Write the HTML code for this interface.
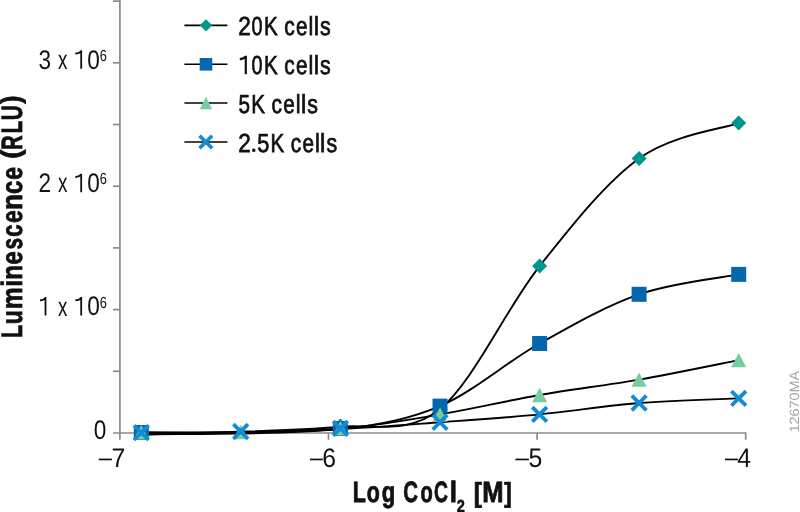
<!DOCTYPE html>
<html><head><meta charset="utf-8"><style>
html,body{margin:0;padding:0;background:#fff;width:800px;height:512px;overflow:hidden}
svg{display:block;will-change:transform}
text{font-family:"Liberation Sans",sans-serif;text-rendering:geometricPrecision}
</style></head><body>
<svg width="800" height="512" viewBox="0 0 800 512">
<rect width="800" height="512" fill="#fff"/>

<path d="M119.90 0V439.8" stroke="#8a8a90" stroke-width="1.7" fill="none"/>
<path d="M113 433.00H746.5" stroke="#8a8a90" stroke-width="1.7" fill="none"/>
<path d="M113 371.30H119.90" stroke="#8a8a90" stroke-width="1.7"/>
<path d="M113 309.60H119.90" stroke="#8a8a90" stroke-width="1.7"/>
<path d="M113 247.90H119.90" stroke="#8a8a90" stroke-width="1.7"/>
<path d="M113 186.20H119.90" stroke="#8a8a90" stroke-width="1.7"/>
<path d="M113 124.50H119.90" stroke="#8a8a90" stroke-width="1.7"/>
<path d="M113 62.80H119.90" stroke="#8a8a90" stroke-width="1.7"/>
<path d="M113 1.10H119.90" stroke="#8a8a90" stroke-width="1.7"/>
<path d="M328.50 433.00V439.8" stroke="#8a8a90" stroke-width="1.7"/>
<path d="M537.10 433.00V439.8" stroke="#8a8a90" stroke-width="1.7"/>
<path d="M745.70 433.00V439.8" stroke="#8a8a90" stroke-width="1.7"/>
<path d="M141.30 434.50 C174.48 433.20 274.03 432.37 340.40 426.70 C373.60 423.87 406.80 435.77 440.00 409.00 C473.20 382.23 506.40 307.89 539.60 266.10 C572.77 224.35 605.93 182.22 639.10 158.40 C672.30 134.55 722.10 128.98 738.70 123.10" stroke="#000" stroke-width="1.90" fill="none"/>
<path d="M141.30 434.50 C174.48 433.60 274.03 435.41 340.40 429.10 C373.60 425.94 406.80 420.37 440.00 406.10 C473.20 391.83 506.40 362.14 539.60 343.50 C572.77 324.88 605.93 305.81 639.10 294.30 C672.30 282.78 722.10 277.72 738.70 274.40" stroke="#000" stroke-width="1.90" fill="none"/>
<path d="M141.30 432.30 C157.87 432.33 207.57 433.07 240.70 432.50 C273.93 431.93 307.17 431.90 340.40 428.90 C373.60 425.90 406.80 420.15 440.00 414.50 C473.20 408.85 506.40 400.82 539.60 395.00 C572.77 389.19 605.93 385.41 639.10 379.60 C672.30 373.78 722.10 363.35 738.70 360.10" stroke="#000" stroke-width="1.90" fill="none"/>
<path d="M141.30 432.70 C157.87 432.58 207.57 432.62 240.70 432.00 C273.93 431.38 307.17 430.62 340.40 429.00 C373.60 427.38 406.80 424.73 440.00 422.30 C473.20 419.87 506.40 417.62 539.60 414.40 C572.77 411.18 605.93 405.67 639.10 403.00 C672.30 400.33 722.10 399.17 738.70 398.40" stroke="#000" stroke-width="1.90" fill="none"/>
<path d="M141.30 425.00L148.80 432.50L141.30 440.00L133.80 432.50Z" fill="#00968d"/>
<path d="M340.40 418.60L347.90 426.10L340.40 433.60L332.90 426.10Z" fill="#00968d"/>
<path d="M440.00 401.50L447.50 409.00L440.00 416.50L432.50 409.00Z" fill="#00968d"/>
<path d="M539.60 258.60L547.10 266.10L539.60 273.60L532.10 266.10Z" fill="#00968d"/>
<path d="M639.10 150.90L646.60 158.40L639.10 165.90L631.60 158.40Z" fill="#00968d"/>
<path d="M738.70 115.60L746.20 123.10L738.70 130.60L731.20 123.10Z" fill="#00968d"/>
<rect x="133.80" y="425.00" width="15.00" height="15.00" fill="#0667b1"/>
<rect x="332.90" y="421.00" width="15.00" height="15.00" fill="#0667b1"/>
<rect x="432.50" y="398.60" width="15.00" height="15.00" fill="#0667b1"/>
<rect x="532.10" y="336.00" width="15.00" height="15.00" fill="#0667b1"/>
<rect x="631.60" y="286.80" width="15.00" height="15.00" fill="#0667b1"/>
<rect x="731.20" y="266.90" width="15.00" height="15.00" fill="#0667b1"/>
<path d="M141.30 425.10L148.80 439.50L133.80 439.50Z" fill="#76cd9d"/>
<path d="M240.70 424.80L248.20 439.20L233.20 439.20Z" fill="#76cd9d"/>
<path d="M340.40 421.10L347.90 435.50L332.90 435.50Z" fill="#76cd9d"/>
<path d="M440.00 407.30L447.50 421.70L432.50 421.70Z" fill="#76cd9d"/>
<path d="M539.60 387.80L547.10 402.20L532.10 402.20Z" fill="#76cd9d"/>
<path d="M639.10 372.40L646.60 386.80L631.60 386.80Z" fill="#76cd9d"/>
<path d="M738.70 352.90L746.20 367.30L731.20 367.30Z" fill="#76cd9d"/>
<path d="M134.00 425.40L148.60 440.00M134.00 440.00L148.60 425.40" stroke="#118cd6" stroke-width="3.80" fill="none"/>
<path d="M233.40 424.20L248.00 438.80M233.40 438.80L248.00 424.20" stroke="#118cd6" stroke-width="3.80" fill="none"/>
<path d="M333.10 421.10L347.70 435.70M333.10 435.70L347.70 421.10" stroke="#118cd6" stroke-width="3.80" fill="none"/>
<path d="M432.70 415.00L447.30 429.60M432.70 429.60L447.30 415.00" stroke="#118cd6" stroke-width="3.80" fill="none"/>
<path d="M532.30 407.10L546.90 421.70M532.30 421.70L546.90 407.10" stroke="#118cd6" stroke-width="3.80" fill="none"/>
<path d="M631.80 395.70L646.40 410.30M631.80 410.30L646.40 395.70" stroke="#118cd6" stroke-width="3.80" fill="none"/>
<path d="M731.40 391.10L746.00 405.70M731.40 405.70L746.00 391.10" stroke="#118cd6" stroke-width="3.80" fill="none"/>
<path d="M184.4 25.35H227.4" stroke="#000" stroke-width="1.6"/>
<path d="M184.4 64.30H227.4" stroke="#000" stroke-width="1.6"/>
<path d="M184.4 102.95H227.4" stroke="#000" stroke-width="1.6"/>
<path d="M184.4 141.95H227.4" stroke="#000" stroke-width="1.6"/>
<path d="M206.00 19.15L212.20 25.35L206.00 31.55L199.80 25.35Z" fill="#00968d"/>
<rect x="199.70" y="58.00" width="12.60" height="12.60" fill="#0667b1"/>
<path d="M206.00 96.75L212.20 109.15L199.80 109.15Z" fill="#76cd9d"/>
<path d="M199.50 135.65L212.10 148.25M199.50 148.25L212.10 135.65" stroke="#118cd6" stroke-width="3.60" fill="none"/>
<text transform="translate(238.16 35.00) scale(0.866 1)" font-size="26.10" fill="#111" stroke="#111" stroke-width="0.75">2</text>
<text transform="translate(251.52 35.00) scale(0.761 1)" font-size="26.10" fill="#111" stroke="#111" stroke-width="0.75">0</text>
<text transform="translate(264.11 35.00) scale(0.788 1)" font-size="26.10" fill="#111" stroke="#111" stroke-width="0.75">K</text>
<text transform="translate(284.31 35.00) scale(0.800 1)" font-size="26.10" fill="#111" stroke="#111" stroke-width="0.75">c</text>
<text transform="translate(296.02 35.00) scale(0.792 1)" font-size="26.10" fill="#111" stroke="#111" stroke-width="0.75">e</text>
<text transform="translate(308.54 35.00) scale(0.828 1)" font-size="26.10" fill="#111" stroke="#111" stroke-width="0.75">l</text>
<text transform="translate(313.69 35.00) scale(0.915 1)" font-size="26.10" fill="#111" stroke="#111" stroke-width="0.75">l</text>
<text transform="translate(320.01 35.00) scale(0.817 1)" font-size="26.10" fill="#111" stroke="#111" stroke-width="0.75">s</text>
<path d="M245.80 55.80V74.20 M245.80 56.40 C244.60 58.20 242.00 59.00 239.80 59.10" stroke="#111" stroke-width="2.20" fill="none"/>
<text transform="translate(251.52 74.00) scale(0.761 1)" font-size="26.10" fill="#111" stroke="#111" stroke-width="0.75">0</text>
<text transform="translate(264.11 74.00) scale(0.788 1)" font-size="26.10" fill="#111" stroke="#111" stroke-width="0.75">K</text>
<text transform="translate(284.31 74.00) scale(0.800 1)" font-size="26.10" fill="#111" stroke="#111" stroke-width="0.75">c</text>
<text transform="translate(296.02 74.00) scale(0.792 1)" font-size="26.10" fill="#111" stroke="#111" stroke-width="0.75">e</text>
<text transform="translate(308.54 74.00) scale(0.828 1)" font-size="26.10" fill="#111" stroke="#111" stroke-width="0.75">l</text>
<text transform="translate(313.69 74.00) scale(0.915 1)" font-size="26.10" fill="#111" stroke="#111" stroke-width="0.75">l</text>
<text transform="translate(320.01 74.00) scale(0.817 1)" font-size="26.10" fill="#111" stroke="#111" stroke-width="0.75">s</text>
<text transform="translate(238.47 112.80) scale(0.792 1)" font-size="26.10" fill="#111" stroke="#111" stroke-width="0.75">5</text>
<text transform="translate(251.31 112.80) scale(0.788 1)" font-size="26.10" fill="#111" stroke="#111" stroke-width="0.75">K</text>
<text transform="translate(271.51 112.80) scale(0.800 1)" font-size="26.10" fill="#111" stroke="#111" stroke-width="0.75">c</text>
<text transform="translate(283.22 112.80) scale(0.792 1)" font-size="26.10" fill="#111" stroke="#111" stroke-width="0.75">e</text>
<text transform="translate(295.74 112.80) scale(0.828 1)" font-size="26.10" fill="#111" stroke="#111" stroke-width="0.75">l</text>
<text transform="translate(300.89 112.80) scale(0.915 1)" font-size="26.10" fill="#111" stroke="#111" stroke-width="0.75">l</text>
<text transform="translate(307.21 112.80) scale(0.817 1)" font-size="26.10" fill="#111" stroke="#111" stroke-width="0.75">s</text>
<text transform="translate(238.16 151.60) scale(0.866 1)" font-size="26.10" fill="#111" stroke="#111" stroke-width="0.75">2</text>
<rect x="252.20" y="148.70" width="3.10" height="3.10" fill="#111"/>
<text transform="translate(257.13 151.60) scale(0.832 1)" font-size="26.10" fill="#111" stroke="#111" stroke-width="0.75">5</text>
<text transform="translate(270.51 151.60) scale(0.788 1)" font-size="26.10" fill="#111" stroke="#111" stroke-width="0.75">K</text>
<text transform="translate(290.71 151.60) scale(0.800 1)" font-size="26.10" fill="#111" stroke="#111" stroke-width="0.75">c</text>
<text transform="translate(302.42 151.60) scale(0.792 1)" font-size="26.10" fill="#111" stroke="#111" stroke-width="0.75">e</text>
<text transform="translate(314.94 151.60) scale(0.828 1)" font-size="26.10" fill="#111" stroke="#111" stroke-width="0.75">l</text>
<text transform="translate(320.09 151.60) scale(0.915 1)" font-size="26.10" fill="#111" stroke="#111" stroke-width="0.75">l</text>
<text transform="translate(326.41 151.60) scale(0.817 1)" font-size="26.10" fill="#111" stroke="#111" stroke-width="0.75">s</text>
<text transform="translate(100.15 438.70) scale(0.840 1)" font-size="26.90" text-anchor="middle" fill="#111" stroke="#fff" stroke-width="0.00">0</text>
<path d="M45.50 297.10V315.60 M45.50 297.70 C44.30 299.50 42.20 300.30 40.00 300.40" stroke="#111" stroke-width="1.80" fill="none"/>
<text transform="translate(62.70 315.60) scale(0.700 1)" font-size="26.90" text-anchor="middle" fill="#111" stroke="#fff" stroke-width="0.00">x</text>
<path d="M81.20 297.10V315.60 M81.20 297.70 C80.00 299.50 77.50 300.30 75.30 300.40" stroke="#111" stroke-width="1.80" fill="none"/>
<text transform="translate(93.45 315.30) scale(0.840 1)" font-size="26.90" text-anchor="middle" fill="#111" stroke="#fff" stroke-width="0.00">0</text>
<text transform="translate(103.30 307.70) scale(0.800 1)" font-size="16.00" text-anchor="middle" fill="#111" stroke="#fff" stroke-width="0.00">6</text>
<text transform="translate(44.80 192.20) scale(0.840 1)" font-size="26.90" text-anchor="middle" fill="#111" stroke="#fff" stroke-width="0.00">2</text>
<text transform="translate(62.70 192.20) scale(0.700 1)" font-size="26.90" text-anchor="middle" fill="#111" stroke="#fff" stroke-width="0.00">x</text>
<path d="M81.20 173.70V192.20 M81.20 174.30 C80.00 176.10 77.50 176.90 75.30 177.00" stroke="#111" stroke-width="1.80" fill="none"/>
<text transform="translate(93.45 191.90) scale(0.840 1)" font-size="26.90" text-anchor="middle" fill="#111" stroke="#fff" stroke-width="0.00">0</text>
<text transform="translate(103.30 184.30) scale(0.800 1)" font-size="16.00" text-anchor="middle" fill="#111" stroke="#fff" stroke-width="0.00">6</text>
<text transform="translate(44.80 68.80) scale(0.840 1)" font-size="26.90" text-anchor="middle" fill="#111" stroke="#fff" stroke-width="0.00">3</text>
<text transform="translate(62.70 68.80) scale(0.700 1)" font-size="26.90" text-anchor="middle" fill="#111" stroke="#fff" stroke-width="0.00">x</text>
<path d="M81.20 50.30V68.80 M81.20 50.90 C80.00 52.70 77.50 53.50 75.30 53.60" stroke="#111" stroke-width="1.80" fill="none"/>
<text transform="translate(93.45 68.50) scale(0.840 1)" font-size="26.90" text-anchor="middle" fill="#111" stroke="#fff" stroke-width="0.00">0</text>
<text transform="translate(103.30 60.90) scale(0.800 1)" font-size="16.00" text-anchor="middle" fill="#111" stroke="#fff" stroke-width="0.00">6</text>
<rect x="98.80" y="458.6" width="13.10" height="1.7" fill="#111"/>
<text transform="translate(118.50 467.2) scale(0.92 1)" font-size="26.9" text-anchor="middle" fill="#111">7</text>
<rect x="310.00" y="458.6" width="12.80" height="1.7" fill="#111"/>
<text transform="translate(329.15 467.2) scale(0.92 1)" font-size="26.9" text-anchor="middle" fill="#111">6</text>
<rect x="515.40" y="458.6" width="13.50" height="1.7" fill="#111"/>
<text transform="translate(535.35 467.2) scale(0.92 1)" font-size="26.9" text-anchor="middle" fill="#111">5</text>
<rect x="725.00" y="458.6" width="12.90" height="1.7" fill="#111"/>
<text transform="translate(744.25 467.2) scale(0.92 1)" font-size="26.9" text-anchor="middle" fill="#111">4</text>
<text transform="translate(352.77 501.90) scale(0.729 1)" font-size="29.40" font-weight="bold" fill="#111" stroke="#111" stroke-width="0.8">L</text>
<text transform="translate(366.76 501.90) scale(0.728 1)" font-size="29.40" font-weight="bold" fill="#111" stroke="#111" stroke-width="0.8">o</text>
<text transform="translate(381.69 501.90) scale(0.751 1)" font-size="29.40" font-weight="bold" fill="#111" stroke="#111" stroke-width="0.8">g</text>
<text transform="translate(403.37 501.90) scale(0.692 1)" font-size="29.40" font-weight="bold" fill="#111" stroke="#111" stroke-width="0.8">C</text>
<text transform="translate(420.52 501.90) scale(0.683 1)" font-size="29.40" font-weight="bold" fill="#111" stroke="#111" stroke-width="0.8">o</text>
<text transform="translate(434.11 501.90) scale(0.655 1)" font-size="29.40" font-weight="bold" fill="#111" stroke="#111" stroke-width="0.8">C</text>
<text transform="translate(449.77 501.90) scale(0.892 1)" font-size="29.40" font-weight="bold" fill="#111" stroke="#111" stroke-width="0.8">l</text>
<text transform="translate(473.82 501.68) scale(0.891 1)" font-size="27.57" font-weight="bold" fill="#111" stroke="#111" stroke-width="0.8">[</text>
<text transform="translate(482.29 501.90) scale(0.871 1)" font-size="29.40" font-weight="bold" fill="#111" stroke="#111" stroke-width="0.8">M</text>
<text transform="translate(504.13 501.68) scale(0.809 1)" font-size="27.57" font-weight="bold" fill="#111" stroke="#111" stroke-width="0.8">]</text>
<text transform="translate(456.80 511.60) scale(0.839 1)" font-size="17.33" font-weight="bold" fill="#111" stroke="#111" stroke-width="0.6">2</text>
<g transform="translate(21.5 0) rotate(-90)">
<text transform="translate(-337.93 0.00) scale(0.729 1)" font-size="29.40" font-weight="bold" fill="#111" stroke="#111" stroke-width="0.8">L</text>
<text transform="translate(-324.21 0.00) scale(0.775 1)" font-size="29.40" font-weight="bold" fill="#111" stroke="#111" stroke-width="0.8">u</text>
<text transform="translate(-309.10 0.00) scale(0.827 1)" font-size="29.40" font-weight="bold" fill="#111" stroke="#111" stroke-width="0.8">m</text>
<text transform="translate(-286.78 0.00) scale(0.868 1)" font-size="29.40" font-weight="bold" fill="#111" stroke="#111" stroke-width="0.8">i</text>
<text transform="translate(-279.80 0.00) scale(0.824 1)" font-size="29.40" font-weight="bold" fill="#111" stroke="#111" stroke-width="0.8">n</text>
<text transform="translate(-264.42 0.00) scale(0.803 1)" font-size="29.40" font-weight="bold" fill="#111" stroke="#111" stroke-width="0.8">e</text>
<text transform="translate(-249.53 0.00) scale(0.709 1)" font-size="29.40" font-weight="bold" fill="#111" stroke="#111" stroke-width="0.8">s</text>
<text transform="translate(-236.76 0.00) scale(0.753 1)" font-size="29.40" font-weight="bold" fill="#111" stroke="#111" stroke-width="0.8">c</text>
<text transform="translate(-223.10 0.00) scale(0.782 1)" font-size="29.40" font-weight="bold" fill="#111" stroke="#111" stroke-width="0.8">e</text>
<text transform="translate(-210.12 0.00) scale(0.887 1)" font-size="29.40" font-weight="bold" fill="#111" stroke="#111" stroke-width="0.8">n</text>
<text transform="translate(-193.94 0.00) scale(0.816 1)" font-size="29.40" font-weight="bold" fill="#111" stroke="#111" stroke-width="0.8">c</text>
<text transform="translate(-179.79 0.00) scale(0.775 1)" font-size="29.40" font-weight="bold" fill="#111" stroke="#111" stroke-width="0.8">e</text>
<text transform="translate(-158.86 -1.03) scale(1.005 1)" font-size="27.14" font-weight="bold" fill="#111" stroke="#111" stroke-width="0.8">(</text>
<text transform="translate(-149.63 0.00) scale(0.675 1)" font-size="29.40" font-weight="bold" fill="#111" stroke="#111" stroke-width="0.8">R</text>
<text transform="translate(-133.26 0.00) scale(0.689 1)" font-size="29.40" font-weight="bold" fill="#111" stroke="#111" stroke-width="0.8">L</text>
<text transform="translate(-120.35 0.00) scale(0.707 1)" font-size="29.40" font-weight="bold" fill="#111" stroke="#111" stroke-width="0.8">U</text>
<text transform="translate(-103.82 -1.03) scale(0.901 1)" font-size="27.14" font-weight="bold" fill="#111" stroke="#111" stroke-width="0.8">)</text>
</g>
<text transform="translate(799.3 432.6) rotate(-90) scale(1.07 1)" font-size="13.5" fill="#a4a4a4">12670MA</text>
</svg></body></html>
